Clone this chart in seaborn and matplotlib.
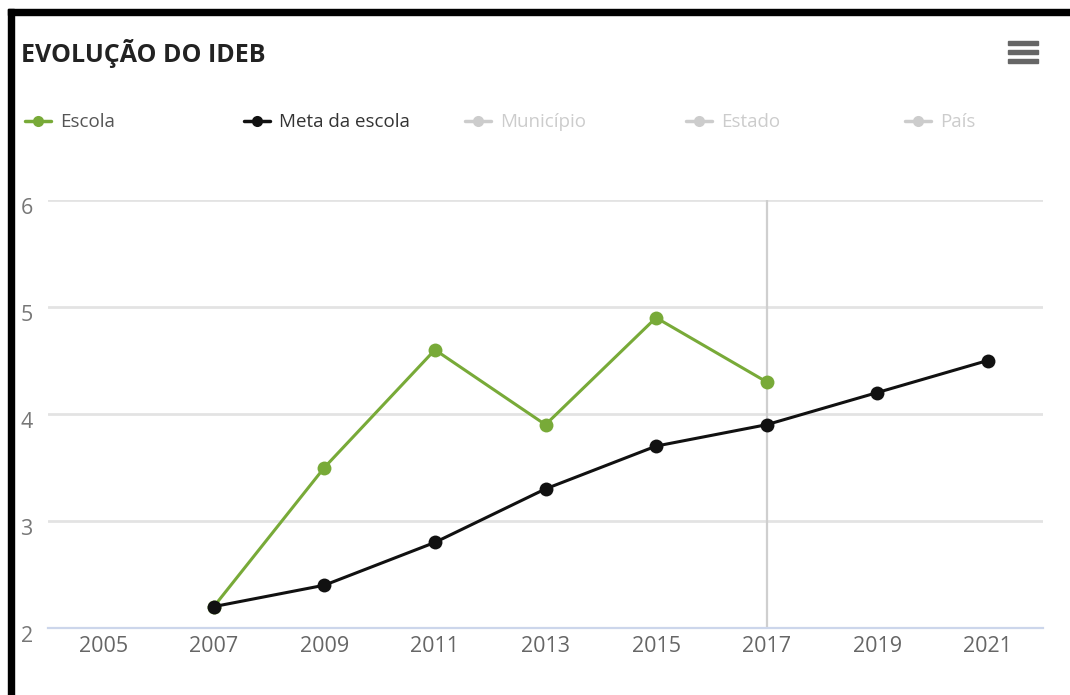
import matplotlib
matplotlib.use("Agg")
import matplotlib.pyplot as plt
from matplotlib.lines import Line2D
from matplotlib.patches import Rectangle
from matplotlib.transforms import ScaledTranslation
import seaborn as sns
import pandas as pd
import numpy as np

# ---- data ----
years = [2005, 2007, 2009, 2011, 2013, 2015, 2017, 2019, 2021]
escola_years = [2007, 2009, 2011, 2013, 2015, 2017]
escola_vals = [2.2, 3.5, 4.6, 3.9, 4.9, 4.3]
meta_years = [2007, 2009, 2011, 2013, 2015, 2017, 2019, 2021]
meta_vals = [2.2, 2.4, 2.8, 3.3, 3.7, 3.9, 4.2, 4.5]
y_ticks = [2, 3, 4, 5, 6]
legend_names = ["Escola", "Meta da escola", "Município", "Estado", "País"]
title = "EVOLUÇÃO DO IDEB"
highlight_year = 2017

GREEN = "#78aa38"
BLACK = "#111111"
INACTIVE = "#cccccc"

sns.set_theme(style="white")
plt.rcParams['font.family'] = ['Open Sans', 'DejaVu Sans']

W, H = 1070, 695
fig = plt.figure(figsize=(W / 100, H / 100), dpi=100)
fig.patch.set_facecolor("white")

def fx(px):
    return px / W

def fy(py):
    return 1 - py / H

ax = fig.add_axes([fx(48), fy(628), fx(1043) - fx(48), fy(200) - fy(628)])

df = pd.concat([
    pd.DataFrame({"year": escola_years, "value": escola_vals, "serie": legend_names[0]}),
    pd.DataFrame({"year": meta_years, "value": meta_vals, "serie": legend_names[1]}),
])

ax.axvline(highlight_year, color="#cfcfcf", lw=1.6, zorder=1)

sns.lineplot(data=df, x="year", y="value", hue="serie",
             palette={legend_names[0]: GREEN, legend_names[1]: BLACK},
             hue_order=[legend_names[0], legend_names[1]],
             marker="o", markersize=10, markeredgewidth=0, linewidth=2.2,
             legend=False, ax=ax, zorder=3)

ax.set_xlim(years[0] - 1, years[-1] + 1)
ax.set_ylim(y_ticks[0], y_ticks[-1])
ax.set_xticks(years)
ax.set_xticklabels([str(y) for y in years])
ax.set_xticks(np.arange(years[0] - 1, years[-1] + 2, 2), minor=True)
ax.set_yticks(y_ticks)
ax.set_yticklabels([str(v) for v in y_ticks])
ax.set_xlabel("")
ax.set_ylabel("")

for v in y_ticks[1:]:
    ax.axhline(v, color="#e3e3e3", lw=2, zorder=0)

for s in ["top", "right", "left"]:
    ax.spines[s].set_visible(False)
ax.spines["bottom"].set_color("#ccd6eb")
ax.spines["bottom"].set_linewidth(1.6)

ax.tick_params(axis="x", which="major", length=0, pad=6, labelsize=15.5, labelcolor="#666666")
ax.tick_params(axis="x", which="minor", length=6, width=1.2, color="#ccd6eb", direction="out")
ax.tick_params(axis="y", length=0, pad=11, labelsize=15.5, labelcolor="#777777")
off = ScaledTranslation(0, -6 / 100, fig.dpi_scale_trans)
for lab in ax.get_yticklabels():
    lab.set_transform(lab.get_transform() + off)

# title
fig.text(fx(21), fy(53), title, fontsize=18, fontweight="bold", color="#222222",
         ha="left", va="center")

# legend (manual layout like the reference)
leg_x = [25, 244, 465, 686, 905]
leg_colors = [GREEN, BLACK, INACTIVE, INACTIVE, INACTIVE]
text_colors = ["#555555", "#333333", INACTIVE, INACTIVE, INACTIVE]
for name, x0, c, tc in zip(legend_names, leg_x, leg_colors, text_colors):
    fig.add_artist(Line2D([fx(x0), fx(x0 + 26)], [fy(121), fy(121)], color=c, lw=2.5,
                          transform=fig.transFigure))
    fig.add_artist(Line2D([fx(x0 + 13)], [fy(121)], color=c, marker="o", markersize=8,
                          markeredgewidth=0, transform=fig.transFigure))
    fig.text(fx(x0 + 35), fy(122), name, fontsize=13.5, color=tc, ha="left", va="center")

# hamburger menu
for yy in [43, 52, 61]:
    fig.add_artist(Rectangle((fx(1008), fy(yy + 2)), fx(30), 4 / H, color="#666666",
                             transform=fig.transFigure))

# black frame (top and left)
fig.add_artist(Rectangle((fx(8), fy(15)), 1 - fx(8), 6 / H, color="black",
                         transform=fig.transFigure))
fig.add_artist(Rectangle((fx(8), 0), 6 / W, fy(9), color="black",
                         transform=fig.transFigure))

fig.savefig("out.png", dpi=100)
